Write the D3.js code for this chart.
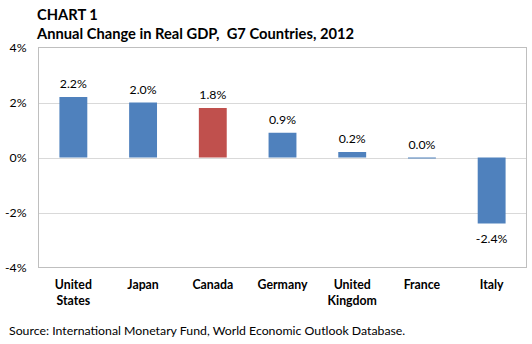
<!DOCTYPE html>
<html>
<head>
<meta charset="utf-8">
<script src="https://cdn.jsdelivr.net/npm/d3@7"></script>
<style>
  html, body { margin: 0; padding: 0; background: #fff; }
  svg { display: block; font-family: Lato, "Open Sans", sans-serif; }
  text { white-space: pre; }
</style>
</head>
<body>
<svg id="chart" width="532" height="344"></svg>
<script>
// G7 real GDP growth, 2012 (%)
const countries = ["United States", "Japan", "Canada", "Germany", "United Kingdom", "France", "Italy"];
const growth = [2.2, 2.0, 1.8, 0.9, 0.2, 0.0, -2.4];
const yTicks = [-4, -2, 0, 2, 4];
const highlight = "Canada";

const titleLines = ["CHART 1", "Annual Change in Real GDP,  G7 Countries, 2012"];
const sourceText = "Source: International Monetary Fund, World Economic Outlook Database.";

const svg = d3.select("#chart");
const plot = { left: 38.5, right: 526.5, top: 47.5, bottom: 267.5 };

const x = d3.scaleBand().domain(countries).range([plot.left, plot.right]).padding(0);
const y = d3.scaleLinear().domain([-4, 4]).range([plot.bottom, plot.top]);
const barW = x.bandwidth() * 0.4;

// title
svg.append("g").selectAll("text").data(titleLines).join("text")
  .attr("x", 37)
  .attr("y", (d, i) => 20 + i * 19)
  .attr("font-size", 14.7)
  .attr("font-weight", "bold")
  .attr("fill", "#000")
  .text(d => d);

// gridlines
svg.append("g").selectAll("line").data(yTicks.filter(t => t !== -4 && t !== 4)).join("line")
  .attr("x1", plot.left).attr("x2", plot.right)
  .attr("y1", d => Math.round(y(d)) + 0.5).attr("y2", d => Math.round(y(d)) + 0.5)
  .attr("stroke", "#D9D9D9").attr("stroke-width", 1);

// plot frame
svg.append("rect")
  .attr("x", plot.left).attr("y", plot.top)
  .attr("width", plot.right - plot.left).attr("height", plot.bottom - plot.top)
  .attr("fill", "none").attr("stroke", "#BFBFBF").attr("stroke-width", 1);

// y axis labels
const yAxis = d3.axisLeft(y).tickValues(yTicks).tickFormat(d => d + "%").tickSize(0).tickPadding(12);
const yg = svg.append("g").attr("transform", `translate(${plot.left},0)`).call(yAxis);
yg.select(".domain").remove();
yg.selectAll("text").attr("font-size", 12.3).attr("font-family", "Lato, sans-serif").attr("fill", "#000");

// bars
svg.append("g").selectAll("rect").data(countries).join("rect")
  .attr("x", d => x(d) + (x.bandwidth() - barW) / 2)
  .attr("width", barW)
  .attr("y", (d, i) => y(Math.max(0, growth[i])))
  .attr("height", (d, i) => Math.max(1, Math.abs(y(growth[i]) - y(0))))
  .attr("fill", d => d === highlight ? "#C0504D" : "#4F81BD");

// value labels
svg.append("g").selectAll("text").data(countries).join("text")
  .attr("x", d => x(d) + x.bandwidth() / 2)
  .attr("y", (d, i) => growth[i] >= 0 ? y(growth[i]) - 9 : y(growth[i]) + 19)
  .attr("text-anchor", "middle")
  .attr("font-size", 12.3)
  .attr("fill", "#000")
  .text((d, i) => growth[i].toFixed(1) + "%");

// category labels
const xl = svg.append("g").selectAll("text").data(countries).join("text")
  .attr("x", d => x(d) + x.bandwidth() / 2)
  .attr("y", 289)
  .attr("text-anchor", "middle")
  .attr("font-size", 12.3)
  .attr("font-weight", "bold")
  .attr("fill", "#000");
xl.each(function(d) {
  const words = d.split(" ");
  d3.select(this).selectAll("tspan").data(words).join("tspan")
    .attr("x", x(d) + x.bandwidth() / 2)
    .attr("dy", (w, i) => i === 0 ? 0 : 16)
    .text(w => w);
});

// source note
svg.append("text")
  .attr("x", 9).attr("y", 335)
  .attr("font-size", 12.3)
  .attr("fill", "#000")
  .text(sourceText);
</script>
</body>
</html>
